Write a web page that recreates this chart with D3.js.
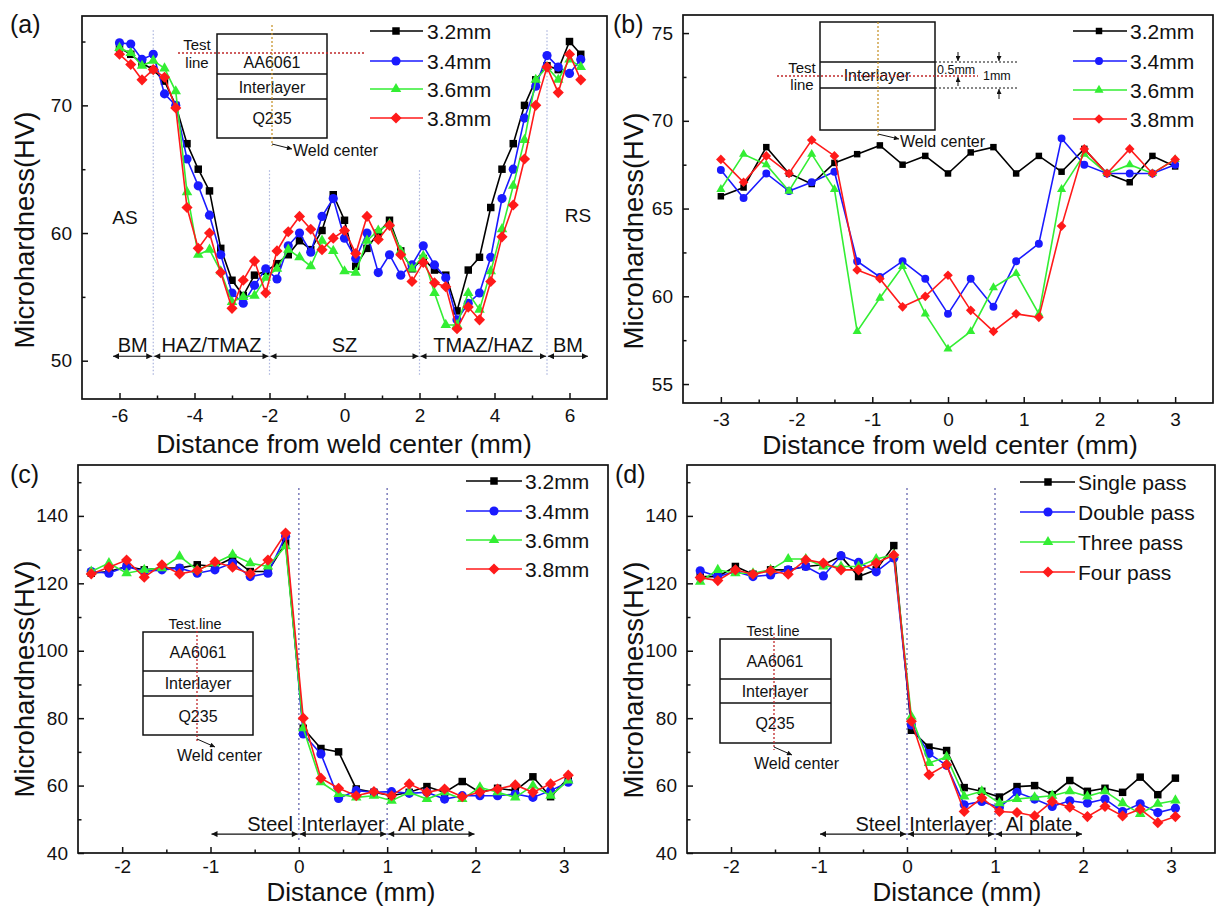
<!DOCTYPE html>
<html>
<head>
<meta charset="utf-8">
<script src="https://cdn.jsdelivr.net/npm/d3@7"></script>
<style>
  body { margin: 0; background: #fff; }
  text { font-family: Arial, "Liberation Sans", sans-serif; fill: #111; }
</style>
</head>
<body>
<div id="chart"></div>
<script>
// ---- panel (a): distance from weld center, 4 plunge depths
const aX = [-6,-5.7,-5.4,-5.1,-4.8,-4.5,-4.2,-3.9,-3.6,-3.3,-3.0,-2.7,-2.4,-2.1,-1.8,-1.5,-1.2,-0.9,-0.6,-0.3,
            0,0.3,0.6,0.9,1.2,1.5,1.8,2.1,2.4,2.7,3.0,3.3,3.6,3.9,4.2,4.5,4.8,5.1,5.4,5.7,6.0,6.3];
const a32 = [74.5,74.0,73.3,72.8,71.9,70.0,67.0,65.0,63.3,58.8,56.3,55.1,56.7,57.0,57.6,58.3,59.4,58.7,60.2,63.0,
             61.0,57.4,58.8,60.0,61.0,58.6,57.2,58.0,57.1,56.7,53.9,57.1,58.1,62.0,65.0,67.0,70.0,72.0,73.1,72.8,75.0,74.0];
const a34 = [74.9,74.8,73.6,74.0,70.9,70.0,65.8,63.7,61.4,58.3,55.3,54.5,55.9,57.2,56.4,59.0,60.0,58.5,61.3,62.7,
             59.6,58.0,60.0,56.9,58.3,56.7,57.5,59.0,57.5,56.5,53.2,54.5,55.3,58.1,62.7,65.0,69.0,71.5,73.9,73.0,72.5,73.6];
const a36 = [74.5,74.1,73.1,73.5,72.9,71.1,63.2,58.3,58.7,57.0,54.6,55.0,55.1,56.5,57.2,58.7,58.1,57.4,59.4,58.6,
             57.0,56.9,59.4,60.2,60.7,58.6,57.2,58.2,55.3,52.8,52.8,55.3,54.0,57.0,60.3,63.7,67.3,72.0,73.0,72.0,73.6,73.0];
const a38 = [74.0,73.2,72.0,72.8,72.2,69.8,62.0,58.8,60.0,56.9,54.1,56.3,57.8,55.3,58.6,60.1,61.3,60.3,58.7,59.6,
             60.2,58.4,61.3,59.5,60.6,58.3,56.2,57.7,56.1,55.8,52.5,54.2,53.2,56.2,59.7,62.2,65.8,70.0,73.0,71.0,74.0,72.0];
const aZones = ["BM", "HAZ/TMAZ", "SZ", "TMAZ/HAZ", "BM"];
const aZoneBounds = [-6.2, -5.1, -2.0, 2.0, 5.4, 6.52];

// ---- panel (b): through the interlayer
const bX = [-3,-2.7,-2.4,-2.1,-1.8,-1.5,-1.2,-0.9,-0.6,-0.3,0,0.3,0.6,0.9,1.2,1.5,1.8,2.1,2.4,2.7,3.0];
const b32 = [65.7,66.2,68.5,67.0,66.4,67.6,68.1,68.6,67.5,68.0,67.0,68.2,68.5,67.0,68.0,67.1,68.4,67.0,66.5,68.0,67.4];
const b34 = [67.2,65.6,67.0,66.0,66.5,67.1,62.0,61.1,62.0,61.0,59.0,61.0,59.4,62.0,63.0,69.0,67.5,67.0,67.0,67.0,67.5];
const b36 = [66.1,68.1,67.5,66.0,68.1,66.1,58.0,59.9,61.7,59.0,57.0,58.0,60.5,61.3,59.0,66.1,68.1,67.0,67.5,67.0,67.8];
const b38 = [67.8,66.5,68.0,67.0,68.9,68.0,61.5,61.0,59.4,60.0,61.2,59.2,58.0,59.0,58.8,64.0,68.4,67.0,68.4,67.0,67.8];

// ---- panels (c) and (d): vertical test line
const cdX = [-2.35,-2.15,-1.95,-1.75,-1.55,-1.35,-1.15,-0.95,-0.75,-0.55,-0.35,-0.15,
             0.05,0.25,0.45,0.65,0.85,1.05,1.25,1.45,1.65,1.85,2.05,2.25,2.45,2.65,2.85,3.05];
const c32 = [123,123.5,125,124,124.5,124.5,125.5,125,127.5,123.5,123.5,132,
             77,71,70,59,58,57,58,59.7,58,61.2,58,59.2,58.5,62.6,56.7,62.2];
const c34 = [123.5,123,125,123.5,124,124.5,123,124,126,122,123,134,
             75.3,69.4,56.2,58.5,58,58.2,57.7,58,56,57,57,57,57.5,56.5,58.5,61];
const c36 = [123.5,126,123,124,124.5,128,124,126,128.5,126,125,131,
             77,61,57.5,56.5,57,55.5,58,56,58,56,59.5,58,56.5,60,57,61.5];
const c38 = [122.8,124.8,126.9,121.8,125.5,122.8,123.8,126.4,124.8,122.8,126.9,134.9,
             80,62.2,59.2,57,58.2,57,60.5,58,59,56.7,58,59,60.2,58,60.5,63.1];
const dSingle = [122,122,125,122.7,124,124,125,125.5,128,122,124,131.2,
                 76.4,71.4,70.4,59.4,58.3,56.6,59.7,60,57.3,61.5,58.3,59.2,58,62.5,57.3,62.2];
const dDouble = [123.7,122,123.5,122,122.5,124,125,122.2,128.2,126.2,123.4,127.5,
                 78,69.5,66,54.3,55.3,53.5,58,56,53.8,55.5,54.8,56,52.3,54.6,52,53.3];
const dThree = [120.5,124,123,123,124,127.2,127.2,125,125,125,127.2,128.5,
                80.5,66.7,68.5,56.8,58.3,54.8,56,56.5,57,58.3,56.8,58.3,54.8,51.6,54.6,55.6];
const dFour = [121.7,120.8,124,122.7,123.7,122.7,127,126,124,124,126,128.4,
               79.1,63.2,66.2,52.3,56.3,52.3,52,51,55.3,53.6,50.8,53.8,51,53,49,50.8];
const cdZones = ["Steel", "Interlayer", "Al plate"];
const cdZoneBounds = [-1, 0, 1, 2];

const depthNames = ["3.2mm", "3.4mm", "3.6mm", "3.8mm"];
const passNames = ["Single pass", "Double pass", "Three pass", "Four pass"];

const COLORS = ["#000000", "#1a1aff", "#33ee33", "#ff1a1a"];

const svg = d3.select("#chart").append("svg")
  .attr("width", 1216)
  .attr("height", 907);

const defs = svg.append("defs");
defs.append("marker").attr("id", "ah")
  .attr("viewBox", "0 0 10 10").attr("refX", 10).attr("refY", 5)
  .attr("markerWidth", 8).attr("markerHeight", 6).attr("markerUnits", "userSpaceOnUse")
  .attr("orient", "auto-start-reverse")
  .append("path").attr("d", "M0,0 L10,5 L0,10 Z").attr("fill", "#111");
defs.append("marker").attr("id", "ahs")
  .attr("viewBox", "0 0 10 10").attr("refX", 10).attr("refY", 5)
  .attr("markerWidth", 6).attr("markerHeight", 5).attr("markerUnits", "userSpaceOnUse")
  .attr("orient", "auto-start-reverse")
  .append("path").attr("d", "M0,0 L10,5 L0,10 Z").attr("fill", "#111");

// marker shapes: square, circle, triangle, diamond (rotated square)
function symbolPath(i, s) {
  if (i === 0) return d3.symbol(d3.symbolSquare, 56 * s)();
  if (i === 1) return d3.symbol(d3.symbolCircle, 66 * s)();
  if (i === 2) return d3.symbol(d3.symbolTriangle, 48 * s)();
  return d3.symbol(d3.symbolSquare, 62 * s)();
}
function symbolTransform(i, cx, cy) {
  return `translate(${cx},${cy})` + (i === 3 ? " rotate(45)" : "");
}

function panel(p) {
  const x = d3.scaleLinear().domain(p.xDomain).range([p.left, p.right]);
  const y = d3.scaleLinear().domain(p.yDomain).range([p.bottom, p.top]);
  const g = svg.append("g");

  // zone lines
  (p.vlines || []).forEach(v => {
    g.append("line")
      .attr("x1", x(v.x)).attr("x2", x(v.x))
      .attr("y1", y(v.y0)).attr("y2", y(v.y1))
      .attr("stroke", p.vlineColor).attr("stroke-width", p.vlineWidth)
      .attr("stroke-dasharray", p.vlineDash);
  });

  // series
  p.series.forEach((vals, i) => {
    const pts = p.xs.map((xv, j) => [xv, vals[j]]);
    g.append("path")
      .attr("d", d3.line().x(d => x(d[0])).y(d => y(d[1]))(pts))
      .attr("fill", "none")
      .attr("stroke", COLORS[i])
      .attr("stroke-width", 1.6);
    g.selectAll(null).data(pts).enter().append("path")
      .attr("d", symbolPath(i, p.msize))
      .attr("transform", d => symbolTransform(i, x(d[0]), y(d[1])))
      .attr("fill", COLORS[i]);
  });

  // axes, ticks pointing inward
  const xa = g.append("g").attr("transform", `translate(0,${p.bottom})`)
    .call(d3.axisBottom(x).tickValues(p.xMajor).tickSize(-6).tickPadding(p.tickPad).tickFormat(d => String(d)));
  const xm = g.append("g").attr("transform", `translate(0,${p.bottom})`)
    .call(d3.axisBottom(x).tickValues(p.xMinor).tickSize(-3.5).tickFormat(""));
  const ya = g.append("g").attr("transform", `translate(${p.left},0)`)
    .call(d3.axisLeft(y).tickValues(p.yMajor).tickSize(-6).tickPadding(10).tickFormat(d => String(d)));
  const ym = g.append("g").attr("transform", `translate(${p.left},0)`)
    .call(d3.axisLeft(y).tickValues(p.yMinor).tickSize(-3.5).tickFormat(""));
  [xa, xm, ya, ym].forEach(a => {
    a.select(".domain").remove();
    a.selectAll(".tick line").attr("stroke", "#111").attr("stroke-width", 1.5);
    a.selectAll(".tick text").style("font-size", "19px").attr("fill", "#222")
      .style("font-family", "Arial, 'Liberation Sans', sans-serif");
  });

  g.append("rect")
    .attr("x", p.left).attr("y", p.top)
    .attr("width", p.right - p.left).attr("height", p.bottom - p.top)
    .attr("fill", "none").attr("stroke", "#111").attr("stroke-width", 1.7);

  // zone arrows + labels
  if (p.zones) {
    const zy = y(p.zoneY);
    p.zones.forEach((name, i) => {
      const x0 = x(p.zoneBounds[i]), x1 = x(p.zoneBounds[i + 1]);
      g.append("line")
        .attr("x1", x0 + 1).attr("x2", x1 - 1).attr("y1", zy).attr("y2", zy)
        .attr("stroke", "#111").attr("stroke-width", 1.2)
        .attr("marker-start", "url(#ah)").attr("marker-end", "url(#ah)");
      const t = g.append("text")
        .attr("y", zy - p.zoneGap)
        .style("font-size", p.zoneFont + "px")
        .text(name);
      if (p.zoneEndAnchor && p.zoneEndAnchor[i]) {
        t.attr("x", x1 - 6).attr("text-anchor", "end");
      } else {
        t.attr("x", (x0 + x1) / 2).attr("text-anchor", "middle");
      }
    });
  }

  // legend
  p.names.forEach((name, i) => {
    const ly = p.legend.rows[i];
    g.append("line")
      .attr("x1", p.legend.x0).attr("x2", p.legend.x1)
      .attr("y1", ly).attr("y2", ly)
      .attr("stroke", COLORS[i]).attr("stroke-width", 1.6);
    g.append("path")
      .attr("d", symbolPath(i, p.msize))
      .attr("transform", symbolTransform(i, p.legend.mx, ly))
      .attr("fill", COLORS[i]);
    g.append("text")
      .attr("x", p.legend.tx).attr("y", ly).attr("dy", "0.36em")
      .style("font-size", "21px")
      .text(name);
  });

  // titles
  g.append("text")
    .attr("x", p.xTitle[0]).attr("y", p.xTitle[1])
    .attr("text-anchor", "middle")
    .style("font-size", p.xTitleSize + "px")
    .text(p.xLabel);
  g.append("text")
    .attr("transform", `translate(${p.yTitle[0]},${p.yTitle[1]}) rotate(-90)`)
    .attr("text-anchor", "middle").attr("dy", "0.35em")
    .style("font-size", "27.5px")
    .text("Microhardness(HV)");
  g.append("text")
    .attr("x", p.tag[0]).attr("y", p.tag[1])
    .style("font-size", "25px")
    .text(p.tagText);

  return { x, y, g };
}

// ---------------- panel (a)
panel({
  left: 82, right: 607, top: 16, bottom: 399,
  xDomain: [-7, 7], yDomain: [47, 77],
  xMajor: [-6, -4, -2, 0, 2, 4, 6], xMinor: [-5, -3, -1, 1, 3, 5],
  yMajor: [50, 60, 70], yMinor: [55, 65, 75], tickPad: 9.5,
  xs: aX, series: [a32, a34, a36, a38], names: depthNames, msize: 1,
  vlines: [{ x: -5.1, y0: 48.9, y1: 76 }, { x: -2.0, y0: 48.9, y1: 65 },
           { x: 2.0, y0: 48.9, y1: 65 }, { x: 5.4, y0: 48.9, y1: 76 }],
  vlineColor: "#aab4dd", vlineWidth: 1.2, vlineDash: "1.5,2",
  zones: aZones, zoneBounds: aZoneBounds, zoneY: 50.35, zoneGap: 4, zoneFont: 20,
  legend: { x0: 370, x1: 423, mx: 396, tx: 427, rows: [31, 61, 89, 118] },
  xLabel: "Distance from weld center (mm)", xTitle: [344, 453], xTitleSize: 26.5, yTitle: [24, 230],
  tag: [10, 33], tagText: "(a)"
});

// AS / RS labels
svg.append("text").attr("x", 125).attr("y", 217).attr("dy", "0.35em")
  .attr("text-anchor", "middle").style("font-size", "19px").text("AS");
svg.append("text").attr("x", 578).attr("y", 215).attr("dy", "0.35em")
  .attr("text-anchor", "middle").style("font-size", "19px").text("RS");

// ---------------- panel (b)
panel({
  left: 683, right: 1213, top: 15, bottom: 403,
  xDomain: [-3.5, 3.5], yDomain: [53.92, 76.03],
  xMajor: [-3, -2, -1, 0, 1, 2, 3], xMinor: [-2.5, -1.5, -0.5, 0.5, 1.5, 2.5],
  yMajor: [55, 60, 65, 70, 75], yMinor: [57.5, 62.5, 67.5, 72.5], tickPad: 9.5,
  xs: bX, series: [b32, b34, b36, b38], names: depthNames, msize: 0.75,
  legend: { x0: 1073, x1: 1127, mx: 1099, tx: 1130, rows: [31, 61, 90, 119] },
  xLabel: "Distance from weld center (mm)", xTitle: [950, 454], xTitleSize: 26.5, yTitle: [633, 231],
  tag: [613, 33], tagText: "(b)"
});

// ---------------- panel (c)
panel({
  left: 78, right: 608, top: 465, bottom: 853,
  xDomain: [-2.5, 3.5], yDomain: [40, 155.1],
  xMajor: [-2, -1, 0, 1, 2, 3], xMinor: [-1.5, -0.5, 0.5, 1.5, 2.5],
  yMajor: [40, 60, 80, 100, 120, 140], yMinor: [50, 70, 90, 110, 130, 150], tickPad: 7,
  xs: cdX, series: [c32, c34, c36, c38], names: depthNames, msize: 1,
  vlines: [{ x: 0, y0: 43.9, y1: 148.6 }, { x: 1, y0: 43.9, y1: 148.6 }],
  vlineColor: "#5a5aa8", vlineWidth: 1.6, vlineDash: "1.5,3.5",
  zones: cdZones, zoneBounds: cdZoneBounds, zoneY: 45.6, zoneGap: 3, zoneFont: 20,
  zoneEndAnchor: [true, false, false],
  legend: { x0: 466, x1: 522, mx: 494, tx: 525, rows: [481, 511, 540, 569] },
  xLabel: "Distance (mm)", xTitle: [351, 901], xTitleSize: 26, yTitle: [24, 679],
  tag: [10, 483], tagText: "(c)"
});

// ---------------- panel (d)
panel({
  left: 687, right: 1215, top: 465, bottom: 853,
  xDomain: [-2.5, 3.5], yDomain: [40, 155.1],
  xMajor: [-2, -1, 0, 1, 2, 3], xMinor: [-1.5, -0.5, 0.5, 1.5, 2.5],
  yMajor: [40, 60, 80, 100, 120, 140], yMinor: [50, 70, 90, 110, 130, 150], tickPad: 7,
  xs: cdX, series: [dSingle, dDouble, dThree, dFour], names: passNames, msize: 1,
  vlines: [{ x: 0, y0: 43.9, y1: 148.6 }, { x: 1, y0: 43.9, y1: 148.6 }],
  vlineColor: "#5a5aa8", vlineWidth: 1.6, vlineDash: "1.5,3.5",
  zones: cdZones, zoneBounds: cdZoneBounds, zoneY: 45.6, zoneGap: 3, zoneFont: 20,
  zoneEndAnchor: [true, false, false],
  legend: { x0: 1020, x1: 1075, mx: 1048, tx: 1078, rows: [482, 512, 542, 572] },
  xLabel: "Distance (mm)", xTitle: [957, 901], xTitleSize: 26, yTitle: [633, 680],
  tag: [615, 483], tagText: "(d)"
});

// ---------------- schematic insets
function label(x, y, txt, size, anchor) {
  svg.append("text").attr("x", x).attr("y", y).attr("dy", "0.35em")
    .attr("text-anchor", anchor || "middle")
    .style("font-size", size + "px").text(txt);
}
function seg(x1, y1, x2, y2, color, width, dash, arrow) {
  const l = svg.append("line").attr("x1", x1).attr("y1", y1).attr("x2", x2).attr("y2", y2)
    .attr("stroke", color).attr("stroke-width", width);
  if (dash) l.attr("stroke-dasharray", dash);
  if (arrow) l.attr("marker-end", `url(#${arrow})`);
}
function box(x0, y0, x1, y1) {
  svg.append("rect").attr("x", x0).attr("y", y0).attr("width", x1 - x0).attr("height", y1 - y0)
    .attr("fill", "#fff").attr("stroke", "#111").attr("stroke-width", 1.5);
}

// inset (a)
box(217, 34, 327, 138);
seg(217, 74, 327, 74, "#111", 1.5);
seg(217, 99, 327, 99, "#111", 1.5);
label(272, 62, "AA6061", 16);
label(272, 87, "Interlayer", 16);
label(272, 118, "Q235", 16);
seg(178, 53, 365, 53, "#c0282a", 1.3, "2,2");
seg(272, 25, 272, 146, "#c8962e", 1.3, "2,2");
seg(272, 144, 292, 149, "#111", 1, null, "ahs");
label(293, 150, "Weld center", 16, "start");
label(197, 45, "Test", 15);
label(197, 63, "line", 15);

// inset (b)
box(820, 22, 935, 130);
seg(820, 62, 935, 62, "#111", 1.5);
seg(820, 88, 935, 88, "#111", 1.5);
seg(935, 62, 1017, 62, "#111", 1, "2,2");
seg(935, 88, 1017, 88, "#111", 1, "2,2");
label(877, 75, "Interlayer", 16);
seg(777, 76, 978, 76, "#c0282a", 1.3, "2,2");
seg(878, 22, 878, 136, "#c8962e", 1.3, "2,2");
seg(878, 134, 899, 139, "#111", 1, null, "ahs");
label(900, 141, "Weld center", 16, "start");
label(802, 68, "Test", 15);
label(802, 85, "line", 15);
label(937, 70, "0.5mm", 12.5, "start");
label(983, 76, "1mm", 12.5, "start");
seg(958, 52, 958, 61, "#111", 1, null, "ahs");
seg(958, 86, 958, 77, "#111", 1, null, "ahs");
seg(999, 52, 999, 61, "#111", 1, null, "ahs");
seg(999, 99, 999, 89, "#111", 1, null, "ahs");

// inset (c)
box(143, 632, 253, 735);
seg(143, 671, 253, 671, "#111", 1.5);
seg(143, 696, 253, 696, "#111", 1.5);
label(195, 624, "Test line", 14.5);
label(198, 652, "AA6061", 16);
label(198, 683, "Interlayer", 16);
label(198, 716, "Q235", 16);
seg(197, 627, 197, 743, "#c0282a", 1.3, "2,2");
seg(197, 739, 215, 747, "#111", 1, null, "ahs");
label(177, 755, "Weld center", 16, "start");

// inset (d)
box(720, 639, 831, 743);
seg(720, 679, 831, 679, "#111", 1.5);
seg(720, 703, 831, 703, "#111", 1.5);
label(773, 631, "Test line", 14.5);
label(775, 661, "AA6061", 16);
label(775, 691, "Interlayer", 16);
label(775, 723, "Q235", 16);
seg(774, 633, 774, 750, "#c0282a", 1.3, "2,2");
seg(774, 747, 792, 755, "#111", 1, null, "ahs");
label(754, 763, "Weld center", 16, "start");
</script>
</body>
</html>
